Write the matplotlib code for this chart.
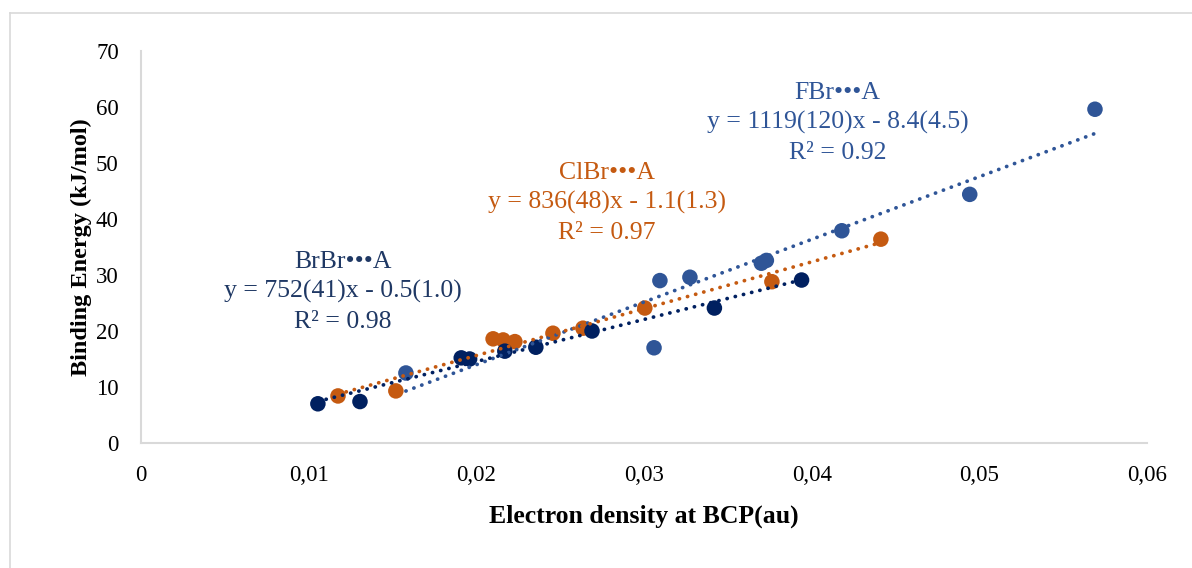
import numpy as np
import matplotlib.pyplot as plt
from matplotlib.lines import Line2D

# Electron density at the BCP (au) and binding energy (kJ/mol) per family
brbr_rho = [0.01055, 0.01306, 0.0191, 0.0196, 0.0217, 0.02355, 0.0269, 0.0342, 0.0394]
brbr_be = [7.0, 7.4, 15.2, 15.0, 16.4, 17.1, 20.0, 24.1, 29.1]

clbr_rho = [0.01175, 0.0152, 0.0210, 0.0216, 0.0223, 0.02457, 0.02636, 0.03005, 0.03763, 0.04413]
clbr_be = [8.4, 9.3, 18.6, 18.4, 18.1, 19.6, 20.5, 24.1, 28.8, 36.4]

fbr_rho = [0.0158, 0.0306, 0.03095, 0.03274, 0.0370, 0.0373, 0.0418, 0.04943, 0.0569]
fbr_be = [12.5, 17.0, 29.0, 29.6, 32.1, 32.6, 37.9, 44.4, 59.6]

# Linear trendline coefficients (slope, intercept)
brbr_fit = (752, -0.5)
clbr_fit = (836, -1.1)
fbr_fit = (1119, -8.4)

x_ticks = [0, 0.01, 0.02, 0.03, 0.04, 0.05, 0.06]
x_tick_labels = ['0', '0,01', '0,02', '0,03', '0,04', '0,05', '0,06']
y_ticks = [0, 10, 20, 30, 40, 50, 60, 70]

c_brbr = '#002060'
c_clbr = '#C55A11'
c_fbr = '#2F5597'

plt.rcParams['font.family'] = ['Liberation Serif', 'DejaVu Serif']

fig = plt.figure(figsize=(11.92, 5.68), dpi=100)
ax = fig.add_axes([0.1183, 0.2201, 0.9622 - 0.1183, 0.9102 - 0.2201])

# thin frame around the chart area
fig.add_artist(Line2D([10 / 1192, 1.0], [1 - 13 / 568, 1 - 13 / 568], transform=fig.transFigure,
                      color='#D9D9D9', lw=1.2))
fig.add_artist(Line2D([10 / 1192, 10 / 1192], [0, 1 - 13 / 568], transform=fig.transFigure,
                      color='#D9D9D9', lw=1.2))


def trend(ax, xs, fit, color):
    x = np.array([min(xs), max(xs)])
    ax.plot(x, fit[0] * x + fit[1], linestyle=(0, (0.05, 2.2)), color=color, lw=2.7,
            dash_capstyle='round', zorder=3)


for xs, ys, fit, col in [(fbr_rho, fbr_be, fbr_fit, c_fbr),
                         (clbr_rho, clbr_be, clbr_fit, c_clbr),
                         (brbr_rho, brbr_be, brbr_fit, c_brbr)]:
    ax.scatter(xs, ys, s=125, color=col, edgecolors='none', zorder=2)
    trend(ax, xs, fit, col)

ax.set_xlim(0, 0.06)
ax.set_ylim(0, 70)
ax.set_xticks(x_ticks)
ax.set_xticklabels(x_tick_labels)
ax.set_yticks(y_ticks)
ax.tick_params(length=0, labelsize=16.5)
ax.tick_params(axis='x', pad=16)
ax.tick_params(axis='y', pad=16)
for s in ['top', 'right']:
    ax.spines[s].set_visible(False)
for s in ['left', 'bottom']:
    ax.spines[s].set_color('#D9D9D9')
    ax.spines[s].set_linewidth(1.5)

ax.set_xlabel('Electron density at BCP(au)', fontsize=18.5, fontweight='bold', labelpad=13)
ax.set_ylabel('Binding Energy (kJ/mol)', fontsize=17.5, fontweight='bold', labelpad=3)

# fit equations
lab = dict(fontsize=18.5, ha='center', va='center', linespacing=1.42)
ax.text(0.01205, 27.0, 'BrBr\u2022\u2022\u2022A\ny = 752(41)x - 0.5(1.0)\nR\u00b2 = 0.98',
        color='#1F3864', **lab)
ax.text(0.02780, 42.9, 'ClBr\u2022\u2022\u2022A\ny = 836(48)x - 1.1(1.3)\nR\u00b2 = 0.97',
        color=c_clbr, **lab)
ax.text(0.04155, 57.2, 'FBr\u2022\u2022\u2022A\ny = 1119(120)x - 8.4(4.5)\nR\u00b2 = 0.92',
        color=c_fbr, **lab)

fig.savefig('out.png', dpi=100)
